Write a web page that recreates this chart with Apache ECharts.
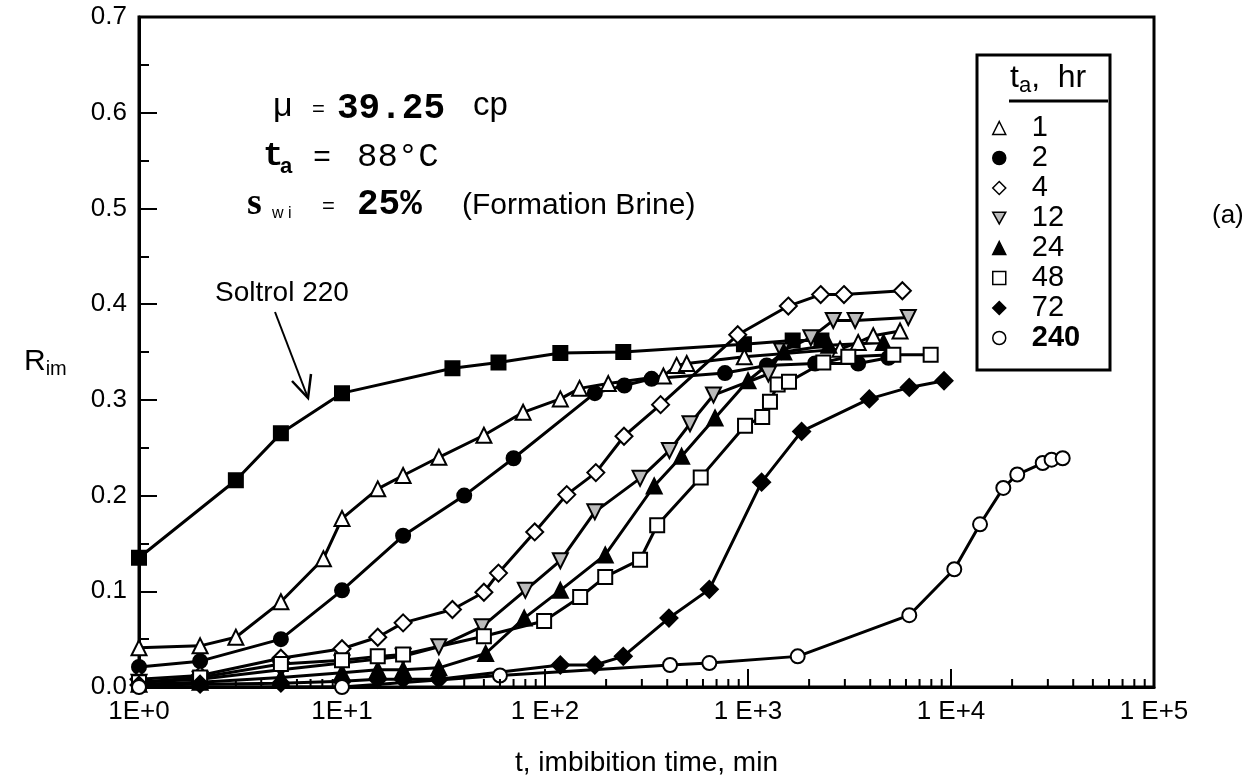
<!DOCTYPE html>
<html><head><meta charset="utf-8">
<script src="https://cdn.jsdelivr.net/npm/echarts@6/dist/echarts.min.js"></script>
<style>html,body{margin:0;padding:0;background:#fff}#c{width:1252px;height:782px}</style>
</head><body><div id="c"></div>
<script>
// ---- data (t in min, R_im) ----
const soltrolT = [1,3,5,10,35,59,119,243,955,1660,2300];
const soltrolR = [0.135,0.216,0.265,0.307,0.333,0.339,0.349,0.350,0.358,0.362,0.362];
const h1T = [1,2,3,5,8.1,10,15,20,30,50,78,119,148,205,383,445,499,959,2840,3490,4140,5610];
const h1R = [0.041,0.043,0.052,0.089,0.134,0.176,0.207,0.221,0.240,0.263,0.287,0.301,0.312,0.317,0.325,0.336,0.338,0.345,0.353,0.360,0.367,0.372];
const h2T = [1,2,5,10,20,40,70,176,246,335,770,1236,2140,3490,4920];
const h2R = [0.021,0.027,0.050,0.101,0.158,0.200,0.239,0.307,0.315,0.322,0.328,0.336,0.338,0.338,0.344];
const h4T = [1,2,5,10,15,20,35,50,59,89,128,178,245,371,890,1580,2280,2970,5760];
const h4R = [0.008,0.012,0.030,0.040,0.052,0.067,0.081,0.099,0.119,0.162,0.201,0.224,0.262,0.295,0.368,0.398,0.410,0.410,0.414];
const h12T = [1,2,5,10,20,30,49,80,119,176,294,410,518,676,1260,1465,2040,2630,3370,6160];
const h12R = [0.005,0.008,0.018,0.025,0.032,0.042,0.063,0.101,0.132,0.183,0.218,0.247,0.275,0.305,0.327,0.351,0.365,0.383,0.383,0.386];
const h24T = [1,2,5,10,15,20,30,51,79,119,198,345,471,688,1000,1500,2500,4650];
const h24R = [0.003,0.005,0.010,0.015,0.018,0.018,0.020,0.035,0.072,0.101,0.138,0.210,0.241,0.281,0.320,0.350,0.357,0.360];
const h48T = [1,2,5,10,15,20,50,99,149,198,294,357,585,967,1175,1283,1400,1592,2350,3120,5200,7940];
const h48R = [0.005,0.010,0.024,0.028,0.032,0.034,0.053,0.069,0.094,0.115,0.133,0.169,0.219,0.273,0.282,0.298,0.316,0.319,0.339,0.345,0.347,0.347];
const h72T = [1,2,5,10,15,20,30,119,176,243,408,645,1167,1837,3960,6230,9240];
const h72R = [0.002,0.003,0.004,0.006,0.008,0.008,0.008,0.023,0.023,0.032,0.072,0.102,0.214,0.267,0.301,0.313,0.320];
const h240T = [1,10,60,413,645,1757,6230,10380,13900,18100,21200,28300,31300,35500];
const h240R = [0.000,0.000,0.012,0.023,0.025,0.032,0.075,0.123,0.170,0.208,0.222,0.234,0.2375,0.239];
const xTickLabels = {1:'1E+0',10:'1E+1',100:'1 E+2',1000:'1 E+3',10000:'1 E+4',100000:'1 E+5'};
const minorX = [];
[1,10,100,1000,10000].forEach(d=>{for(let k=2;k<=9;k++) minorX.push(d*k);});

const pair = (T,R)=>T.map((t,i)=>[t,R[i]]);
const SANS = 'Liberation Sans, Arial, sans-serif';
const MONO = 'Liberation Mono, monospace';
const DOWN = 'path://M0,0L10,0L5,9Z';

function ser(name, T, R, symbol, fill, size){
  return {name, type:'line', data:pair(T,R), symbol, symbolSize:size||14,
    itemStyle:{color:fill, borderColor:'#000', borderWidth:2},
    lineStyle:{color:'#000', width:3}, z:3, animation:false};
}
const series = [
  ser('Soltrol 220', soltrolT, soltrolR, 'rect', '#000', 14),
  ser('1', h1T, h1R, 'triangle', '#fff', 15),
  ser('2', h2T, h2R, 'circle', '#000', 14),
  ser('4', h4T, h4R, 'diamond', '#fff', 17),
  ser('12', h12T, h12R, DOWN, '#bbb', 15),
  ser('24', h24T, h24R, 'triangle', '#000', 15),
  ser('48', h48T, h48R, 'rect', '#fff', 14),
  ser('72', h72T, h72R, 'diamond', '#000', 17),
  ser('240', h240T, h240R, 'circle', '#fff', 14),
  {type:'custom', data:minorX.map(v=>[v]), encode:{x:0}, silent:true, clip:false, z:5,
   renderItem:(p,api)=>{const c=api.coord([api.value(0),0]);
     return {type:'line', shape:{x1:c[0],y1:c[1],x2:c[0],y2:c[1]-8}, style:{stroke:'#000',lineWidth:2}};}}
];

const legItem = (name, icon, fill)=>({name, icon, itemStyle:{color:fill, borderColor:'#000', borderWidth:1.5}});

const chart = echarts.init(document.getElementById('c'), null, {renderer:'canvas'});
chart.setOption({
  animation:false,
  backgroundColor:'#fff',
  grid:{left:139, right:98, top:17, bottom:93, show:true, borderColor:'#000', borderWidth:3},
  xAxis:{type:'log', logBase:10, min:1, max:100000,
    axisLine:{lineStyle:{color:'#000', width:3}},
    axisTick:{inside:true, length:18, lineStyle:{color:'#000', width:2}},
    axisLabel:{color:'#000', fontFamily:SANS, fontSize:26, margin:12, formatter:v=>xTickLabels[v]||''},
    splitLine:{show:false},
    name:'t, imbibition time, min', nameLocation:'middle', nameGap:62,
    nameTextStyle:{color:'#000', fontFamily:SANS, fontSize:28}},
  yAxis:{type:'value', min:0, max:0.7, interval:0.1,
    axisLine:{lineStyle:{color:'#000', width:3}},
    axisTick:{inside:true, length:18, lineStyle:{color:'#000', width:2}},
    minorTick:{show:true, splitNumber:2, length:10, lineStyle:{color:'#000', width:2}},
    axisLabel:{color:'#000', fontFamily:SANS, fontSize:26, margin:12, formatter:v=>v.toFixed(1)},
    splitLine:{show:false}},
  legend:{orient:'vertical', left:992, top:113, itemWidth:13, itemHeight:13, itemGap:0, padding:0,
    textStyle:{color:'#000', fontFamily:SANS, fontSize:29, lineHeight:30, padding:[0,0,0,21],
      rich:{b:{fontFamily:SANS, fontSize:29, lineHeight:30, fontWeight:'bold', color:'#000'}}},
    formatter:n=>n==='240'?'{b|240}':n,
    data:[legItem('1','triangle','#fff'), legItem('2','circle','#000'), legItem('4','diamond','#fff'),
      legItem('12',DOWN,'#bbb'), legItem('24','triangle','#000'), legItem('48','rect','#fff'),
      legItem('72','diamond','#000'), legItem('240','circle','#fff')]},
  graphic:[
    {type:'rect', shape:{x:977, y:55, width:133, height:315}, style:{fill:null, stroke:'#000', lineWidth:3}, z:10},
    {type:'line', shape:{x1:1009, y1:101, x2:1108, y2:101}, style:{stroke:'#000', lineWidth:3}, z:10},
    {type:'text', left:1010, top:62, style:{text:'t{s|a},  hr', font:'32px '+SANS, fill:'#000',
      rich:{s:{font:'22px '+SANS, fill:'#000', padding:[16,0,0,0]}}}, z:10},
    // annotation block
    {type:'text', x:273, y:107, style:{text:'μ', font:'34px '+SANS, fill:'#000', verticalAlign:'middle'}},
    {type:'text', x:312, y:110, style:{text:'=', font:'22px '+SANS, fill:'#000', verticalAlign:'middle'}},
    {type:'text', x:337, y:109, style:{text:'39.25', font:'bold 36px '+MONO, fill:'#000', verticalAlign:'middle'}},
    {type:'text', x:473, y:106, style:{text:'cp', font:'33px '+SANS, fill:'#000', verticalAlign:'middle'}},
    {type:'text', x:263, y:156, style:{text:'t', font:'bold 34px '+MONO, fill:'#000', verticalAlign:'middle'}},
    {type:'text', x:280, y:167, style:{text:'a', font:'bold 22px '+SANS, fill:'#000', verticalAlign:'middle'}},
    {type:'text', x:313, y:158, style:{text:'=', font:'30px '+MONO, fill:'#000', verticalAlign:'middle'}},
    {type:'text', x:357, y:157, style:{text:'88°C', font:'34px '+MONO, fill:'#000', verticalAlign:'middle'}},
    {type:'text', x:247, y:204, style:{text:'s', font:'bold 38px Liberation Serif, serif', fill:'#000', verticalAlign:'middle'}},
    {type:'text', x:272, y:214, style:{text:'w i', font:'16px '+SANS, fill:'#000', verticalAlign:'middle'}},
    {type:'text', x:322, y:207, style:{text:'=', font:'22px '+SANS, fill:'#000', verticalAlign:'middle'}},
    {type:'text', x:357, y:205, style:{text:'25%', font:'bold 36px '+MONO, fill:'#000', verticalAlign:'middle'}},
    {type:'text', x:462, y:206, style:{text:'(Formation Brine)', font:'30px '+SANS, fill:'#000', verticalAlign:'middle'}},
    {type:'text', x:215, y:293, style:{text:'Soltrol 220', font:'28px '+SANS, fill:'#000', verticalAlign:'middle'}},
    {type:'line', shape:{x1:275, y1:312, x2:308, y2:398}, style:{stroke:'#000', lineWidth:2}},
    {type:'polyline', shape:{points:[[292,381],[308,398],[311,374]]}, style:{stroke:'#000', lineWidth:2.5, fill:null}},
    {type:'text', x:24, y:362, style:{text:'R{s|im}', font:'30px '+SANS, fill:'#000', verticalAlign:'middle',
      rich:{s:{font:'20px '+SANS, fill:'#000', padding:[14,0,0,0]}}}},
    {type:'text', x:1212, y:216, style:{text:'(a)', font:'26px '+SANS, fill:'#000', verticalAlign:'middle'}}
  ],
  series
});
</script></body></html>
